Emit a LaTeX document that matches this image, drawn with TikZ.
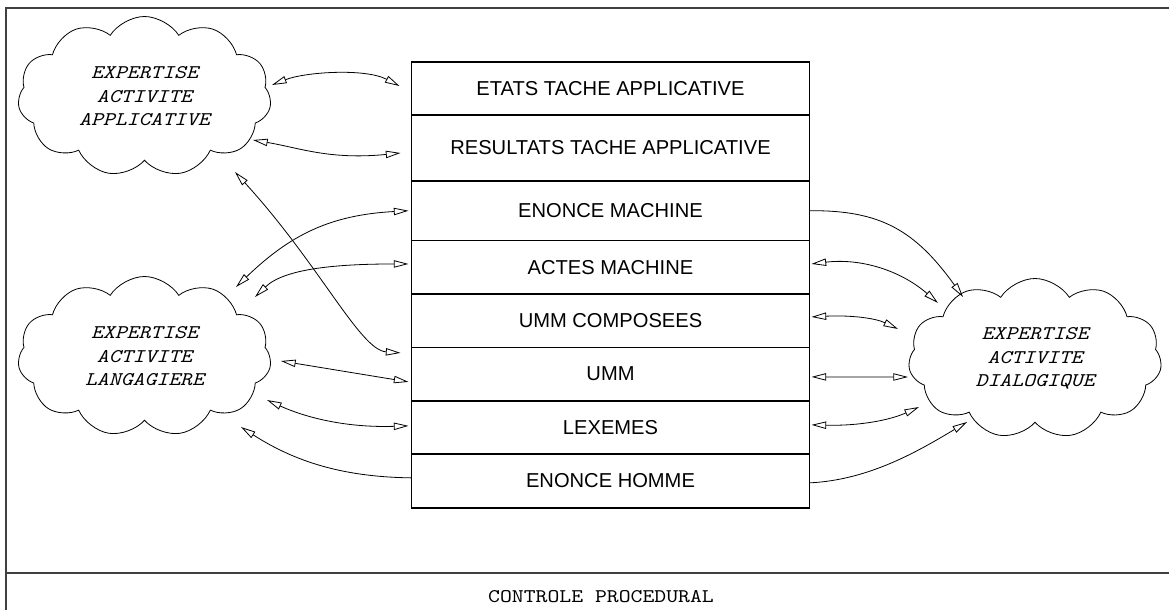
\documentclass[tikz,border=0pt]{standalone}
\usepackage{fontspec}
\setmainfont{Liberation Sans}
\newfontfamily\courierfont{lmmono10-regular.otf}[ItalicFont=lmmono10-italic.otf,FakeStretch=1.17]
\usetikzlibrary{shapes.symbols,arrows.meta,positioning,calc}
\tikzset{
  row/.style={draw,line width=1.1pt,minimum width=298.5pt,inner sep=0pt,outer sep=0pt,
    font=\fontsize{15.1pt}{17pt}\selectfont},
  expert/.style={draw,cloud,cloud puffs=11,cloud puff arc=115,aspect=1.6,line width=0.6pt,
    minimum width=190pt,minimum height=120pt,inner sep=0pt,align=center,
    font=\courierfont\itshape\fontsize{14.5pt}{17.6pt}\selectfont},
  link/.style={line width=0.6pt},
  both/.style={link,{Triangle[open,length=11pt,width=5.5pt]}-{Triangle[open,length=11pt,width=5.5pt]}},
  tocloud/.style={link,-{Triangle[open,length=11pt,width=5.5pt]}},
  frame/.style={line width=1.1pt,black!75}
}

\begin{document}
\begin{tikzpicture}[x=0.75pt,y=-0.75pt]
  \useasboundingbox (0,0) rectangle (1169,610);
  \draw[frame] (6,610) -- (6,8) -- (1169,8);
  \draw[frame] (6,573) -- (1169,573);
  \node[font=\courierfont\fontsize{14.5pt}{17pt}\selectfont] (proc) at (601,597) {CONTROLE PROCEDURAL};

  % pile centrale
  \node[row,minimum height=39.75pt] (etats) at (610.5,88.5) {ETATS TACHE APPLICATIVE};
  \node[row,minimum height=49.5pt,below=0pt of etats] (resultats) {RESULTATS TACHE APPLICATIVE};
  \node[row,minimum height=44.6pt,below=0pt of resultats] (enmach) {ENONCE MACHINE};
  \node[row,minimum height=40.1pt,below=0pt of enmach] (actes) {ACTES MACHINE};
  \node[row,minimum height=40.1pt,below=0pt of actes] (ummc) {UMM COMPOSEES};
  \node[row,minimum height=40.1pt,below=0pt of ummc] (umm) {UMM};
  \node[row,minimum height=39.75pt,below=0pt of umm] (lexemes) {LEXEMES};
  \node[row,minimum height=40.5pt,below=0pt of lexemes] (enhom) {ENONCE HOMME};

  % expertises
  \node[expert] (app) at (144.5,96.5) {EXPERTISE\\ACTIVITE\\APPLICATIVE};
  \node[expert] (lang) at (144.5,356.5) {EXPERTISE\\ACTIVITE\\LANGAGIERE};
  \node[expert] (dia) at (1035,358.5) {EXPERTISE\\ACTIVITE\\DIALOGIQUE};

  % cote gauche
  \draw[both] ($(app)+(127.5,-11.5)$) .. controls (305,72) and (365,68) .. ($(etats.west)+(-12,-2.5)$);
  \draw[both] ($(app)+(108.5,43.5)$) .. controls (300,148) and (330,160) .. ($(resultats.west)+(-11,5)$);
  \draw[both] ($(app)+(90.5,75.5)$) .. controls (320,265) and (360,350) .. ($(umm.west)+(-11,-21.25)$);
  \draw[both] ($(enmach.west)+(-3,0)$) .. controls (330,215) and (290,235) .. ($(lang)+(91.5,-69.5)$);
  \draw[both] ($(actes.west)+(-3,-3.25)$) .. controls (340,264) and (285,268) .. ($(lang)+(110.5,-59.5)$);
  \draw[both] ($(umm.west)+(-3,7.75)$) -- ($(lang)+(136.5,4.5)$);
  \draw[both] ($(lexemes.west)+(-3,-1.5)$) .. controls (340,428) and (300,415) .. ($(lang)+(122.5,43.5)$);
  \draw[tocloud] ($(enhom.west)+(0,-3)$) .. controls (350,477) and (300,465) .. ($(lang)+(96.5,70.5)$);

  % cote droit
  \draw[tocloud] (enmach.east) .. controls (880,210) and (915,230) .. ($(dia)+(-72,-61.5)$);
  \draw[both] ($(actes.east)+(2,-3.25)$) .. controls (860,258) and (900,270) .. ($(dia)+(-97,-55.5)$);
  \draw[both] ($(ummc.east)+(2,-3.75)$) .. controls (850,315) and (875,318) .. ($(dia)+(-137,-29.5)$);
  \draw[both] ($(umm.east)+(2,2.75)$) -- ($(dia)+(-127,18.5)$);
  \draw[both] ($(lexemes.east)+(2,-2.5)$) .. controls (860,426) and (890,420) .. ($(dia)+(-116,48.5)$);
  \draw[tocloud] ($(enhom.east)+(0,2)$) .. controls (870,480) and (920,450) .. ($(dia)+(-68,63.5)$);
\end{tikzpicture}
\end{document}
